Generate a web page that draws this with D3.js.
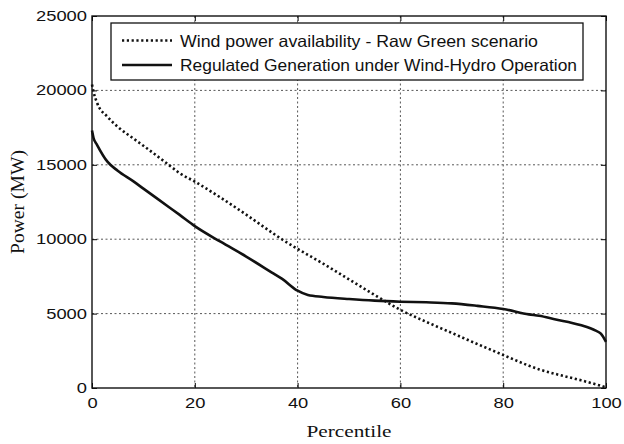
<!DOCTYPE html>
<html>
<head>
<meta charset="utf-8">
<script src="https://cdn.jsdelivr.net/npm/d3@7"></script>
<style>
  body { margin: 0; background: #fff; }
</style>
</head>
<body>
<div id="chart"></div>
<script>
// percentile positions
const percentile = [0, 0.3, 1, 3, 5, 8, 10, 15, 17, 20, 25, 30, 35, 37, 40, 42, 45, 50, 55, 60, 65, 70, 75, 80, 85, 87, 90, 95, 98, 99, 100];

// Wind power availability - Raw Green scenario (MW)
const windRaw = [20400, 19900, 19150, 18230, 17560, 16780, 16280, 14980, 14450, 13870, 12800, 11650, 10450, 9980, 9350, 8950, 8350, 7300, 6250, 5250, 4450, 3700, 2950, 2220, 1500, 1250, 960, 530, 250, 150, 30];

// Regulated Generation under Wind-Hydro Operation (MW)
const regulated = [17300, 16800, 16330, 15210, 14600, 13900, 13400, 12150, 11650, 10880, 9830, 8830, 7760, 7330, 6540, 6250, 6120, 5980, 5870, 5800, 5760, 5690, 5520, 5310, 4950, 4850, 4620, 4230, 3850, 3650, 3100];

const xTicks = [0, 20, 40, 60, 80, 100];
const yTicks = [0, 5000, 10000, 15000, 20000, 25000];
const seriesNames = ["Wind power availability - Raw Green scenario", "Regulated Generation under Wind-Hydro Operation"];

const W = 624, H = 444;
const margin = {top: 16, right: 18, bottom: 56, left: 92};
const width = W - margin.left - margin.right,
      height = H - margin.top - margin.bottom;

const svg = d3.select("#chart").append("svg")
  .attr("width", W).attr("height", H);

const g = svg.append("g")
  .attr("transform", `translate(${margin.left},${margin.top})`);

const x = d3.scaleLinear().domain([0, 100]).range([0, width]);
const y = d3.scaleLinear().domain([0, 25000]).range([height, 0]);

// grid
g.append("g").selectAll("line")
  .data(xTicks.slice(1, -1))
  .join("line")
  .attr("x1", d => x(d)).attr("x2", d => x(d))
  .attr("y1", 0).attr("y2", height)
  .attr("stroke", "#444").attr("stroke-width", 0.9)
  .attr("stroke-dasharray", "2,2.5");

g.append("g").selectAll("line")
  .data(yTicks.slice(1, -1))
  .join("line")
  .attr("y1", d => y(d)).attr("y2", d => y(d))
  .attr("x1", 0).attr("x2", width)
  .attr("stroke", "#444").attr("stroke-width", 0.9)
  .attr("stroke-dasharray", "2,2.5");

// axes (ticks inside)
const tickFont = "'Liberation Sans', Arial, sans-serif";

const xAxis = g.append("g")
  .attr("transform", `translate(0,${height})`)
  .call(d3.axisBottom(x).tickValues(xTicks).tickFormat(d3.format("d")).tickSizeInner(-5).tickSizeOuter(0).tickPadding(10));

const yAxis = g.append("g")
  .call(d3.axisLeft(y).tickValues(yTicks).tickFormat(d3.format("d")).tickSizeInner(-5).tickSizeOuter(0).tickPadding(5));

g.append("g")
  .call(d3.axisTop(x).tickValues(xTicks).tickFormat("").tickSizeInner(-5).tickSizeOuter(0));
g.append("g")
  .attr("transform", `translate(${width},0)`)
  .call(d3.axisRight(y).tickValues(yTicks).tickFormat("").tickSizeInner(-5).tickSizeOuter(0));

g.selectAll(".domain").remove();
g.selectAll(".tick line").attr("stroke", "#000").attr("stroke-width", 1);

[xAxis, yAxis].forEach(a => a.selectAll("text")
  .attr("font-family", tickFont)
  .attr("font-size", 14)
  .attr("fill", "#111")
  .attr("textLength", d => String(d).length * 10.2)
  .attr("lengthAdjust", "spacingAndGlyphs"));

// frame
g.append("rect")
  .attr("width", width).attr("height", height)
  .attr("fill", "none").attr("stroke", "#111").attr("stroke-width", 1.4);

// lines
const line = d3.line()
  .x((d, i) => x(percentile[i]))
  .y(d => y(d))
  .curve(d3.curveMonotoneX);

g.append("path")
  .datum(windRaw)
  .attr("fill", "none")
  .attr("stroke", "#111")
  .attr("stroke-width", 2.6)
  .attr("stroke-dasharray", "2.2,2.6")
  .attr("d", line);

g.append("path")
  .datum(regulated)
  .attr("fill", "none")
  .attr("stroke", "#111")
  .attr("stroke-width", 2.6)
  .attr("d", line);

// legend
const legend = svg.append("g").attr("transform", "translate(111,23)");
legend.append("rect")
  .attr("width", 472).attr("height", 57)
  .attr("fill", "#fff").attr("stroke", "#111").attr("stroke-width", 1.3);

const rows = [
  {name: seriesNames[0], dash: "2.2,2.6", len: 358},
  {name: seriesNames[1], dash: null, len: 397}
];
rows.forEach((r, i) => {
  const ly = 17.5 + i * 24.5;
  legend.append("line")
    .attr("x1", 11).attr("x2", 61)
    .attr("y1", ly).attr("y2", ly)
    .attr("stroke", "#111").attr("stroke-width", 2.6)
    .attr("stroke-dasharray", r.dash);
  legend.append("text")
    .attr("x", 69).attr("y", ly + 6)
    .attr("font-family", tickFont)
    .attr("font-size", 16.5)
    .attr("fill", "#111")
    .attr("textLength", r.len)
    .attr("lengthAdjust", "spacingAndGlyphs")
    .text(r.name);
});

// axis labels
svg.append("text")
  .attr("x", margin.left + width / 2).attr("y", 437)
  .attr("text-anchor", "middle")
  .attr("font-family", "'Liberation Serif', 'Times New Roman', serif")
  .attr("font-size", 17)
  .attr("fill", "#111")
  .attr("textLength", 85)
  .attr("lengthAdjust", "spacingAndGlyphs")
  .text("Percentile");

svg.append("text")
  .attr("transform", `translate(24,${margin.top + height / 2}) rotate(-90)`)
  .attr("text-anchor", "middle")
  .attr("font-family", "'Liberation Serif', 'Times New Roman', serif")
  .attr("font-size", 18)
  .attr("fill", "#111")
  .attr("textLength", 104)
  .attr("lengthAdjust", "spacingAndGlyphs")
  .text("Power (MW)");
</script>
</body>
</html>
